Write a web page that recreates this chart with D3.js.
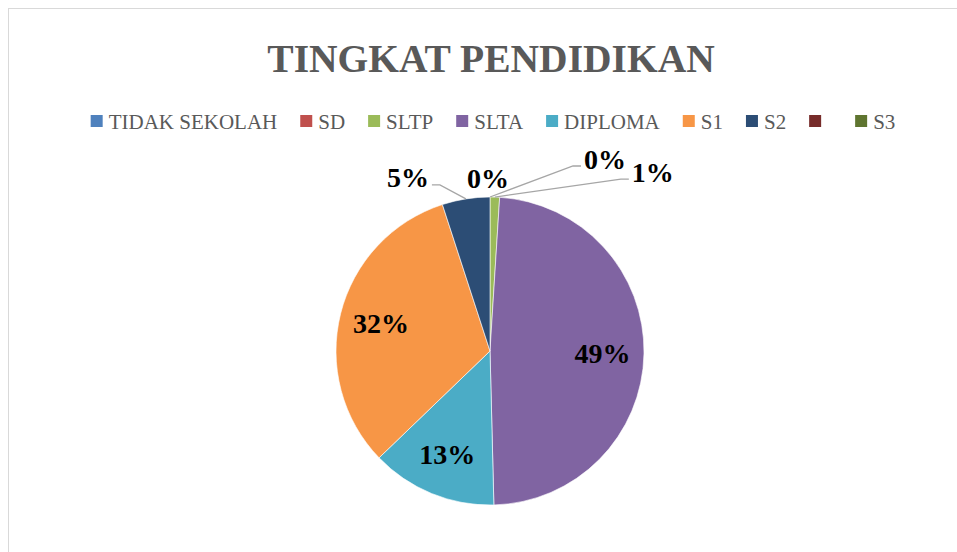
<!DOCTYPE html>
<html>
<head>
<meta charset="utf-8">
<script src="https://cdn.jsdelivr.net/npm/d3@7"></script>
<style>
  body { margin: 0; background: #fff; }
  svg { display: block; font-family: "Liberation Serif", "DejaVu Serif", serif; }
</style>
</head>
<body>
<div id="chart"></div>
<script>
const categories = ["TIDAK SEKOLAH", "SD", "SLTP", "SLTA", "DIPLOMA", "S1", "S2", "", "S3"];
const values = [null, 0, 1.0, 48.6, 13.2, 32.2, 5.0, null, 0];
const colors = ["#4F81BD", "#C0504D", "#9BBB59", "#8064A2", "#4BACC6", "#F79646", "#2C4D75", "#772C2A", "#5F7530"];
// labels placed outside the pie: offset of label centre from slice edge, and whether a leader line is drawn
const outsideLabels = {
  "SD": { dx: 115, dy: -38, leader: true },
  "SLTP": { dx: 158, dy: -25, leader: true },
  "S2": { dx: -58, dy: -21, leader: true },
  "S3": { dx: -2, dy: -19, leader: false }
};

const width = 957, height = 552;
const cx = 490, cy = 351, radius = 154;

const svg = d3.select("#chart").append("svg")
  .attr("width", width)
  .attr("height", height);

svg.append("rect")
  .attr("x", 8.5).attr("y", 8.5)
  .attr("width", 960).attr("height", 560)
  .attr("fill", "#fff")
  .attr("stroke", "#d9d9d9");

// title
svg.append("text")
  .attr("x", 491)
  .attr("y", 72)
  .attr("text-anchor", "middle")
  .attr("font-size", "39.5px")
  .attr("font-weight", "bold")
  .attr("fill", "#595959")
  .text("TINGKAT PENDIDIKAN");

// legend
const legendG = svg.append("g");
let lx = 0;
categories.forEach((c, i) => {
  const item = legendG.append("g").attr("transform", `translate(${lx},0)`);
  item.append("rect")
    .attr("x", 0).attr("y", -6)
    .attr("width", 12).attr("height", 12)
    .attr("fill", colors[i]);
  const t = item.append("text")
    .attr("x", 18)
    .attr("y", 7.5)
    .attr("font-size", "21px")
    .attr("fill", "#595959")
    .attr("xml:space", "preserve")
    .text(c === "" ? " " : c);
  const tw = c === "" ? 5 : t.node().getComputedTextLength();
  lx += 18 + tw + 23;
});
const legendW = lx - 23;
legendG.attr("transform", `translate(${493 - legendW / 2},121)`);

// pie
const data = categories.map((c, i) => ({ name: c, value: values[i], color: colors[i] }));
const total = d3.sum(data, (d) => d.value || 0);

const pie = d3.pie()
  .sort(null)
  .value((d) => d.value || 0);

const arcs = pie(data);
const arc = d3.arc().innerRadius(0).outerRadius(radius);
const labelArc = d3.arc().innerRadius(radius * 0.73).outerRadius(radius * 0.73);
const edgeArc = d3.arc().innerRadius(radius).outerRadius(radius);

const pieG = svg.append("g").attr("transform", `translate(${cx},${cy})`);

pieG.selectAll("path")
  .data(arcs.filter((d) => d.data.value > 0))
  .join("path")
  .attr("d", arc)
  .attr("fill", (d) => d.data.color)
  .attr("stroke", "#fff")
  .attr("stroke-width", 0.6);

const fmt = d3.format(".0%");
const labelled = arcs.filter((d) => d.data.value !== null);

labelled.forEach((d) => {
  const txt = fmt(d.data.value / total);
  const out = outsideLabels[d.data.name];
  if (!out) {
    const [x, y] = labelArc.centroid(d);
    pieG.append("text")
      .attr("x", x).attr("y", y)
      .attr("text-anchor", "middle")
      .attr("dominant-baseline", "central")
      .attr("font-size", "28px")
      .attr("font-weight", "bold")
      .attr("fill", "#000")
      .text(txt);
    return;
  }
  const [ex, ey] = edgeArc.centroid(d);
  const x = ex + out.dx, y = ey + out.dy;
  const t = pieG.append("text")
    .attr("x", x).attr("y", y)
    .attr("text-anchor", "middle")
    .attr("dominant-baseline", "central")
    .attr("font-size", "28px")
    .attr("font-weight", "bold")
    .attr("fill", "#000")
    .text(txt);
  if (out.leader) {
    const half = t.node().getComputedTextLength() / 2;
    const side = out.dx > 0 ? -1 : 1;
    const endX = x + side * (half + 3);
    const pts = [[ex, ey], [endX + side * 8, y + 7], [endX, y + 7]];
    pieG.append("path")
      .attr("d", d3.line()(pts))
      .attr("fill", "none")
      .attr("stroke", "#a6a6a6")
      .attr("stroke-width", 1.3);
  }
});
</script>
</body>
</html>
